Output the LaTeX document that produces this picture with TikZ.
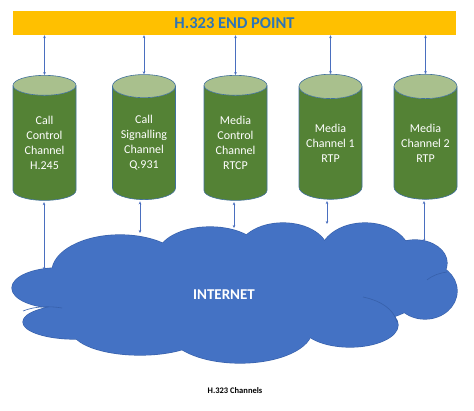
\documentclass[tikz,border=0pt]{standalone}
\usepackage{fontspec}
\setmainfont{Carlito}
\usetikzlibrary{shapes.geometric,arrows.meta}
\definecolor{endgold}{HTML}{FFC000}
\definecolor{endtext}{HTML}{2E75B6}
\definecolor{chanbody}{HTML}{548235}
\definecolor{chantop}{HTML}{A9C08D}
\definecolor{chanline}{HTML}{41719C}
\definecolor{linkblue}{HTML}{4A6FBF}
\definecolor{cloudblue}{HTML}{4472C4}
\definecolor{cloudline}{HTML}{3760AA}
\tikzset{
  chan/.style={cylinder, shape border rotate=90, aspect=0.5, minimum width=63pt, minimum height=125pt,
    draw=chanline, line width=0.6pt, cylinder uses custom fill, cylinder body fill=chanbody,
    cylinder end fill=chantop, text=white, font=\fontsize{12}{15}\selectfont, align=center, inner sep=0pt},
  link/.style={draw=linkblue, line width=0.5pt, {Stealth[length=3pt,width=2.6pt]}-{Stealth[length=3pt,width=2.6pt]}},
  arc/.style={draw=cloudline, line width=0.6pt}
}
\begin{document}
\begin{tikzpicture}[x=1pt,y=-1pt]
  \useasboundingbox[fill=white] (0,0) rectangle (474,411);

  % end point banner
  \node[fill=endgold, minimum width=443pt, minimum height=24pt, inner sep=0pt, text=endtext,
    font=\fontsize{16.5}{18}\selectfont\bfseries] (ep) at (234.5,23) {H.323 END POINT};

  % channels
  \node[chan] (cc) at (44.5,143) {Call\\Control\\Channel\\H.245};
  \node[chan] (cs) at (144,143) {Call\\Signalling\\Channel\\Q.931};
  \node[chan] (mc) at (235.5,143) {Media\\Control\\Channel\\RTCP};
  \node[chan] (m1) at (330.5,143) {Media\\Channel 1\\RTP};
  \node[chan] (m2) at (425.5,143) {Media\\Channel 2\\RTP};

  % internet cloud: outlines first, then the fill on top
  \def\lobes{58/288/46/20, 75/322/52/17, 140/330/68/25, 425/291/32/28, 415/263/32/23,
    365/255/45/32, 283/252/45/29, 210/255/52/28, 120/272/68/37, 350/325/48/22,
    240/330/72/33, 235/292/190/45}
  \foreach \cx/\cy/\rx/\ry in \lobes
    \draw[cloudline, line width=1.2pt] (\cx,\cy) ellipse [x radius=\rx, y radius=\ry];
  \foreach \cx/\cy/\rx/\ry in \lobes
    \fill[cloudblue] (\cx,\cy) ellipse [x radius=\rx, y radius=\ry];
  \draw[arc] (23,311) .. controls (35,306) and (50,306) .. (62,308);
  \draw[arc] (363,297) .. controls (382,301) and (394,310) .. (397,322);
  \draw[arc] (427,280) .. controls (433,275) and (440,273) .. (447,272);
  \node[text=white, font=\fontsize{15}{17}\selectfont\bfseries] (net) at (224,295) {INTERNET};

  % cloud ends of the links
  \coordinate (ccnet) at (44,270);
  \coordinate (csnet) at (140,233);
  \coordinate (mcnet) at (234,228);
  \coordinate (m1net) at (327,224);
  \coordinate (m2net) at (424,242);

  % links
  \foreach \c in {cc,cs,mc,m1,m2}{
    \draw[link] (\c.north |- ep.south) -- (\c.north);
    \draw[link, shorten <=1.5pt] (\c net |- \c.south) -- (\c net);
  }

  \node[font=\fontsize{8.5}{10}\selectfont\bfseries] (cap) at (235,391) {H.323 Channels};
\end{tikzpicture}
\end{document}
